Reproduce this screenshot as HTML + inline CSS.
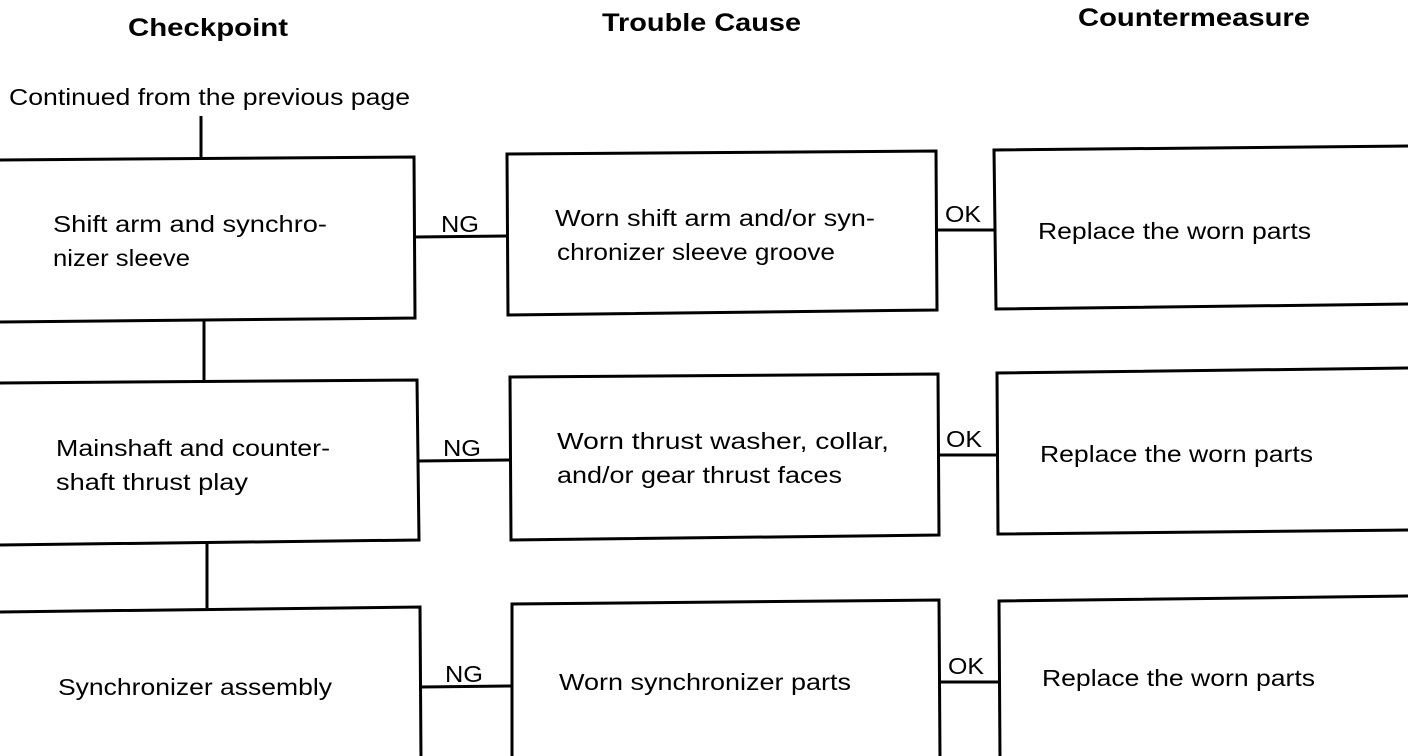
<!DOCTYPE html>
<html><head><meta charset="utf-8"><style>
html,body{margin:0;padding:0;background:#fff;width:1408px;height:756px;overflow:hidden}
svg text{font-family:"Liberation Sans",sans-serif;font-size:23px;fill:#000}
.h{font-weight:bold;font-size:25px}
</style></head><body>
<svg width="1408" height="756" viewBox="0 0 1408 756" xmlns="http://www.w3.org/2000/svg">
<g fill="none" stroke="#000" stroke-width="3">
<polyline points="-5,160 414,157 415,318 -5,322"/>
<polygon points="507,154 936,151 937,310 508,315"/>
<polyline points="1410,146 994,150 996,309 1410,304"/>
<polyline points="-5,383 417,380 419,540 -5,545"/>
<polygon points="510,377 938,374 939,535 511,540"/>
<polyline points="1410,368 997,373 998,534 1410,530"/>
<polyline points="-5,612 420,607 421,760"/>
<polyline points="512,760 512,604 939,600 940,760"/>
<polyline points="1410,596 999,601 1000,760"/>
<line x1="201" y1="116" x2="201" y2="158"/>
<line x1="204" y1="320" x2="204" y2="381"/>
<line x1="207" y1="543" x2="207" y2="608"/>
<line x1="415" y1="237" x2="507" y2="236"/>
<line x1="418" y1="461" x2="510" y2="460"/>
<line x1="421" y1="687" x2="512" y2="686"/>
<line x1="937" y1="230" x2="994" y2="230"/>
<line x1="939" y1="455" x2="997" y2="455"/>
<line x1="940" y1="682" x2="999" y2="682"/>
</g>
<g>
<text class="h" x="128" y="36" textLength="160" lengthAdjust="spacingAndGlyphs">Checkpoint</text>
<text class="h" x="602" y="31" textLength="199" lengthAdjust="spacingAndGlyphs">Trouble Cause</text>
<text class="h" x="1078" y="26" textLength="232" lengthAdjust="spacingAndGlyphs">Countermeasure</text>
<text x="9" y="105" textLength="401" lengthAdjust="spacingAndGlyphs">Continued from the previous page</text>
<text x="53" y="232" textLength="274" lengthAdjust="spacingAndGlyphs">Shift arm and synchro-</text>
<text x="53" y="266" textLength="137" lengthAdjust="spacingAndGlyphs">nizer sleeve</text>
<text x="441" y="232" textLength="38" lengthAdjust="spacingAndGlyphs">NG</text>
<text x="555" y="226" textLength="320" lengthAdjust="spacingAndGlyphs">Worn shift arm and/or syn-</text>
<text x="557" y="260" textLength="278" lengthAdjust="spacingAndGlyphs">chronizer sleeve groove</text>
<text x="945" y="222" textLength="36" lengthAdjust="spacingAndGlyphs">OK</text>
<text x="1038" y="239" textLength="273" lengthAdjust="spacingAndGlyphs">Replace the worn parts</text>
<text x="56" y="456" textLength="274" lengthAdjust="spacingAndGlyphs">Mainshaft and counter-</text>
<text x="56" y="490" textLength="192" lengthAdjust="spacingAndGlyphs">shaft thrust play</text>
<text x="443" y="456" textLength="38" lengthAdjust="spacingAndGlyphs">NG</text>
<text x="557" y="449" textLength="332" lengthAdjust="spacingAndGlyphs">Worn thrust washer, collar,</text>
<text x="557" y="483" textLength="285" lengthAdjust="spacingAndGlyphs">and/or gear thrust faces</text>
<text x="946" y="447" textLength="36" lengthAdjust="spacingAndGlyphs">OK</text>
<text x="1040" y="462" textLength="273" lengthAdjust="spacingAndGlyphs">Replace the worn parts</text>
<text x="58" y="695" textLength="274" lengthAdjust="spacingAndGlyphs">Synchronizer assembly</text>
<text x="445" y="682" textLength="38" lengthAdjust="spacingAndGlyphs">NG</text>
<text x="559" y="690" textLength="292" lengthAdjust="spacingAndGlyphs">Worn synchronizer parts</text>
<text x="948" y="674" textLength="36" lengthAdjust="spacingAndGlyphs">OK</text>
<text x="1042" y="686" textLength="273" lengthAdjust="spacingAndGlyphs">Replace the worn parts</text>
</g>
</svg>
</body></html>
